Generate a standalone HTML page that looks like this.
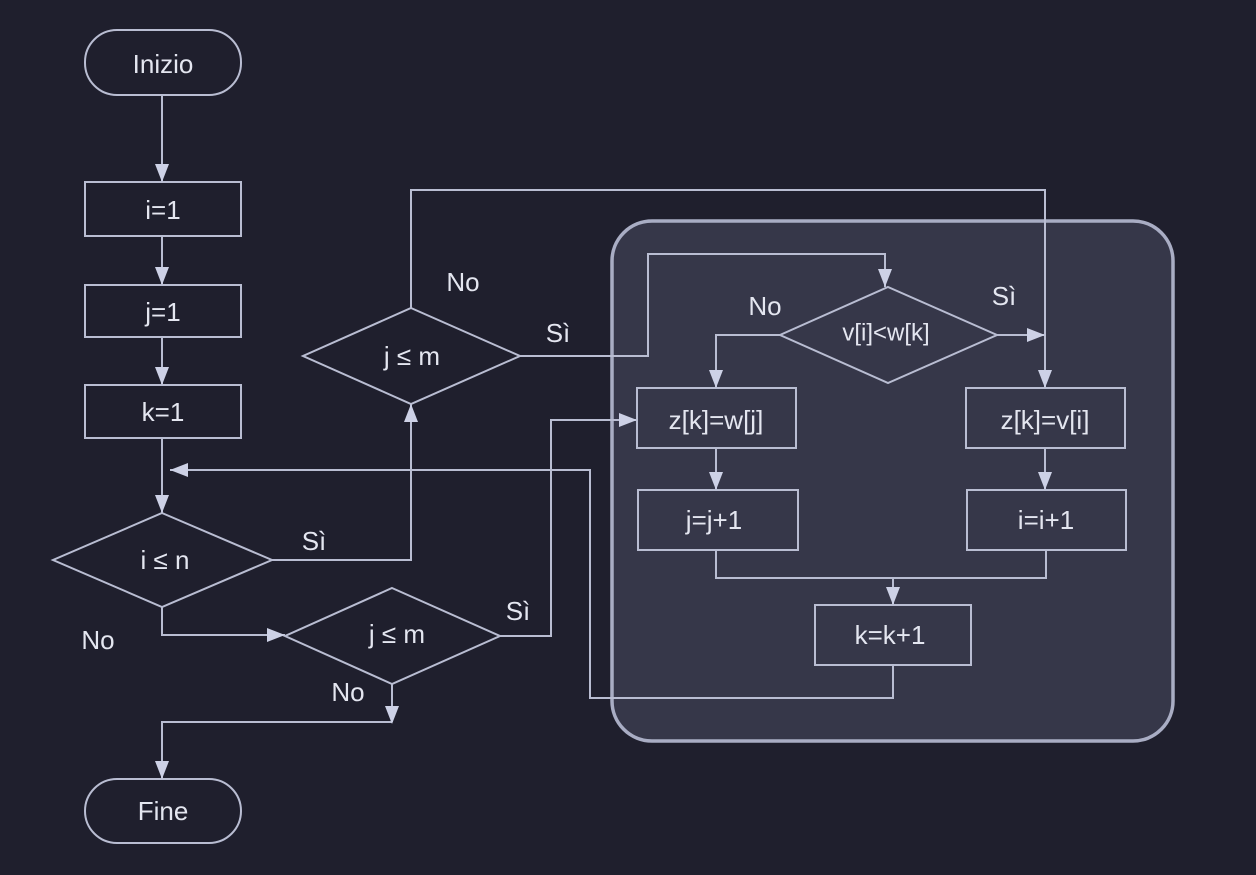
<!DOCTYPE html>
<html><head><meta charset="utf-8"><style>
html,body{margin:0;padding:0;background:#1f1f2d;}
svg{display:block}
text{font-family:"Liberation Sans","DejaVu Sans",sans-serif;fill:#e4e6f0;font-size:26px;text-anchor:middle;dominant-baseline:central}
.s{fill:none;stroke:#b9bdd2;stroke-width:2}
.a{fill:#cdd1e6}
</style></head><body>
<svg width="1256" height="875" viewBox="0 0 1256 875" xmlns="http://www.w3.org/2000/svg">
<rect width="1256" height="875" fill="#1f1f2d"/>
<!-- container -->
<rect x="612" y="221" width="561" height="520" rx="40" fill="#363749" stroke="#a9adc4" stroke-width="3.5"/>

<!-- left column -->
<rect class="s" x="85" y="30" width="156" height="65" rx="32"/>
<text x="163" y="64">Inizio</text>
<rect class="s" x="85" y="182" width="156" height="54"/>
<text x="163" y="210">i=1</text>
<rect class="s" x="85" y="285" width="156" height="52"/>
<text x="163" y="312">j=1</text>
<rect class="s" x="85" y="385" width="156" height="53"/>
<text x="163" y="412">k=1</text>
<polygon class="s" points="162,513 272,560 162,607 53,560"/>
<text x="165" y="560">i ≤ n</text>
<rect class="s" x="85" y="779" width="156" height="64" rx="32"/>
<text x="163" y="811">Fine</text>

<!-- upper j<=m -->
<polygon class="s" points="411,308 520,356 411,404 303,356"/>
<text x="412" y="356">j ≤ m</text>
<!-- lower j<=m -->
<polygon class="s" points="392,588 500,636 392,684 285,636"/>
<text x="397" y="634">j ≤ m</text>

<!-- inner -->
<polygon class="s" points="888,287 997,335 888,383 780,335"/>
<text x="886" y="333" style="font-size:24px">v[i]&lt;w[k]</text>
<rect class="s" x="637" y="388" width="159" height="60"/>
<text x="716" y="420">z[k]=w[j]</text>
<rect class="s" x="966" y="388" width="159" height="60"/>
<text x="1045" y="420">z[k]=v[i]</text>
<rect class="s" x="638" y="490" width="160" height="60"/>
<text x="714" y="520">j=j+1</text>
<rect class="s" x="967" y="490" width="159" height="60"/>
<text x="1046" y="520">i=i+1</text>
<rect class="s" x="815" y="605" width="156" height="60"/>
<text x="890" y="635">k=k+1</text>

<!-- connectors -->
<polyline class="s" points="162,95 162,182"/>
<polyline class="s" points="162,236 162,285"/>
<polyline class="s" points="162,337 162,385"/>
<polyline class="s" points="162,438 162,513"/>
<polyline class="s" points="893,665 893,698 590,698 590,470 170,470"/>
<polyline class="s" points="272,560 411,560 411,404"/>
<polyline class="s" points="162,607 162,635 285,635"/>
<polyline class="s" points="500,636 551,636 551,420 637,420"/>
<polyline class="s" points="392,684 392,722"/>
<polyline class="s" points="392,722 162,722 162,779"/>
<polyline class="s" points="411,308 411,190 1045,190 1045,388"/>
<polyline class="s" points="520,356 648,356 648,254 885,254 885,287"/>
<polyline class="s" points="780,335 716,335 716,388"/>
<polyline class="s" points="997,335 1045,335"/>
<polyline class="s" points="716,448 716,490"/>
<polyline class="s" points="1045,448 1045,490"/>
<polyline class="s" points="716,550 716,578 1046,578 1046,550"/>
<polyline class="s" points="893,578 893,605"/>

<!-- arrowheads (down) -->
<g class="a">
<polygon points="155,164 169,164 162,182"/>
<polygon points="155,267 169,267 162,285"/>
<polygon points="155,367 169,367 162,385"/>
<polygon points="155,495 169,495 162,513"/>
<polygon points="155,761 169,761 162,779"/>
<polygon points="385,706 399,706 392,724"/>
<polygon points="878,269 892,269 885,287"/>
<polygon points="709,370 723,370 716,388"/>
<polygon points="1038,370 1052,370 1045,388"/>
<polygon points="709,472 723,472 716,490"/>
<polygon points="1038,472 1052,472 1045,490"/>
<polygon points="886,587 900,587 893,605"/>
<!-- up -->
<polygon points="404,422 418,422 411,404"/>
<!-- right -->
<polygon points="267,628 267,642 285,635"/>
<polygon points="619,413 619,427 637,420"/>
<polygon points="1027,328 1027,342 1045,335"/>
<!-- left -->
<polygon points="188,463 188,477 170,470"/>
</g>

<!-- labels -->
<text x="463" y="282">No</text>
<text x="558" y="333">Sì</text>
<text x="314" y="541">Sì</text>
<text x="98" y="640">No</text>
<text x="518" y="611">Sì</text>
<text x="348" y="692">No</text>
<text x="765" y="306">No</text>
<text x="1004" y="296">Sì</text>
</svg>
</body></html>
